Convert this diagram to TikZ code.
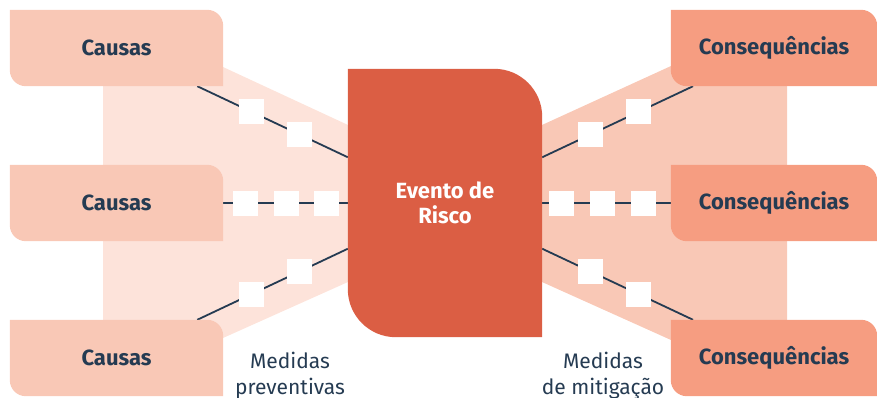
\documentclass[tikz,border=0pt]{standalone}
\usepackage{fontspec}
\setmainfont{Fira Sans}
\usepackage{tikz}
\usetikzlibrary{backgrounds}
\definecolor{navy}{HTML}{253B52}
\definecolor{peach}{HTML}{F9C8B6}
\definecolor{blush}{HTML}{FDE3DA}
\definecolor{salmon}{HTML}{F69D81}
\definecolor{riskred}{HTML}{DB5E44}
\tikzstyle{link} = [navy, line width=1.8pt]
% box with two rounded corners (top right, bottom left)
\newcommand{\tabfill}[3]{\fill[#2] (#1.north west) -- ([xshift=-#3]#1.north east) arc[start angle=90,end angle=0,radius=#3] -- (#1.south east) -- ([xshift=#3]#1.south west) arc[start angle=270,end angle=180,radius=#3] -- cycle;}

\begin{document}
\begin{tikzpicture}[
            x=1pt, y=1pt,
            tab/.style={minimum width=213pt, minimum height=76pt, inner sep=0pt, text=navy, font=\fontsize{22}{26}\selectfont\bfseries},
            conseq/.style={tab, minimum width=206pt},
            risk/.style={minimum width=194pt, minimum height=268pt, inner sep=0pt, text=white, align=center, font=\fontsize{22}{25}\selectfont\bfseries},
            sq/.style={fill=white, minimum size=25pt, inner sep=0pt},
            note/.style={text=navy, align=center, inner sep=0pt, anchor=north, font=\fontsize{21}{26}\selectfont}
        ]
            \useasboundingbox (0,0) rectangle (877,397);

            \node[tab] (c1) at (116.5,349) {Causas};
            \node[tab] (c2) at (116.5,194) {Causas};
            \node[tab] (c3) at (116.5,39) {Causas};
            \node[conseq] (k1) at (774,349) {Consequências};
            \node[conseq] (k2) at (774,194) {Consequências};
            \node[conseq] (k3) at (774,39) {Consequências};
            \node[risk] (ev) at (445,194) {Evento de\\Risco};

            \node[note] (prev) at (290,45) {Medidas\\preventivas};
            \node[note] (mitig) at (603,45) {Medidas\\de mitigação};

            \begin{scope}[on background layer]
                \fill[blush] (103,59) -- (223,59) -- (348,115) -- (348,272) -- (223,330) -- (103,330) -- cycle;
                \fill[peach] (542,115) -- (671,57) -- (787,57) -- (787,331) -- (671,331) -- (542,272) -- cycle;

                \draw[link] (c1) -- (ev) node[sq, pos=0.36] {} node[sq, pos=0.68] {};
                \draw[link] (c2) -- (ev) node[sq, pos=0.176] {} node[sq, pos=0.512] {} node[sq, pos=0.832] {};
                \draw[link] (c3) -- (ev) node[sq, pos=0.36] {} node[sq, pos=0.68] {};
                \draw[link] (ev) -- (k1) node[sq, pos=0.32] {} node[sq, pos=0.64] {};
                \draw[link] (ev) -- (k2) node[sq, pos=0.151] {} node[sq, pos=0.469] {} node[sq, pos=0.787] {};
                \draw[link] (ev) -- (k3) node[sq, pos=0.32] {} node[sq, pos=0.64] {};

                \tabfill{c1}{peach}{16pt}
                \tabfill{c2}{peach}{16pt}
                \tabfill{c3}{peach}{16pt}
                \tabfill{k1}{salmon}{16pt}
                \tabfill{k2}{salmon}{16pt}
                \tabfill{k3}{salmon}{16pt}
                \tabfill{ev}{riskred}{48pt}
            \end{scope}
        \end{tikzpicture}
\end{document}
